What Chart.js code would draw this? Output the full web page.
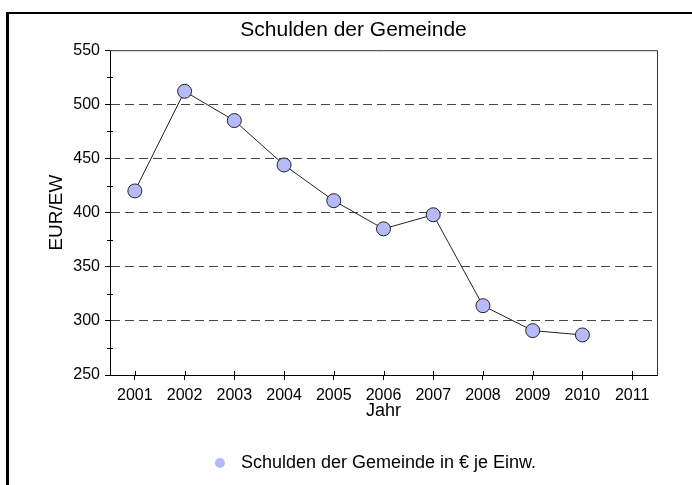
<!DOCTYPE html>
<html>
<head>
<meta charset="utf-8">
<script src="https://cdn.jsdelivr.net/npm/chart.js@4.4.1/dist/chart.umd.min.js"></script>
<style>
    body { margin: 0; overflow: hidden; background: #fff; }
    #frame {
        position: absolute; left: 6px; top: 12px; width: 800px; height: 600px;
        border-left: 3px solid #000; border-top: 2px solid #000;
    }
    #wrap { position: absolute; left: 0; top: 0; width: 692px; height: 485px; }
</style>
</head>
<body>
<div id="frame"></div>
<div id="wrap"><canvas id="schulden" width="692" height="485"></canvas></div>
<script>
var years = ["2001", "2002", "2003", "2004", "2005", "2006", "2007", "2008", "2009", "2010", "2011"]
var schulden = [420, 512, 485, 444, 411, 385, 398, 314, 291, 287, null]
var yTicks = [250, 300, 350, 400, 450, 500, 550]

var titleText = "Schulden der Gemeinde"
var seriesName = "Schulden der Gemeinde in \u20ac je Einw."

var fontName = "'Liberation Sans', Arial, sans-serif"
var pointFill = "rgb(180, 186, 250)"

// legenden-punkt als kleines bild, punkt sitzt rechts im bild
var legendDot = document.createElement("canvas")
legendDot.width = 61
legendDot.height = 12
var dctx = legendDot.getContext("2d")
dctx.fillStyle = pointFill
dctx.beginPath()
dctx.arc(49, 6, 5, 0, Math.PI * 2)
dctx.fill()

// rahmen oben/rechts + kleine ticks nach innen
var plotFrame = {
    id: "plotFrame",
    afterDraw: function(chart){
        var ctx = chart.ctx
        var a = chart.chartArea
        ctx.save()
        ctx.strokeStyle = "#333"
        ctx.lineWidth = 1
        ctx.beginPath()
        ctx.moveTo(a.left, a.top + 0.5)
        ctx.lineTo(a.right + 0.5, a.top + 0.5)
        ctx.lineTo(a.right + 0.5, a.bottom)
        ctx.stroke()

        ctx.strokeStyle = "#000"
        ctx.beginPath()
        var x = chart.scales.x
        for(var i = 0; i < x.ticks.length; i++){
            var px = Math.round(x.getPixelForTick(i)) + 0.5
            ctx.moveTo(px, a.bottom)
            ctx.lineTo(px, a.bottom - 4)
        }
        var y = chart.scales.y
        for(var j = 0; j < y.ticks.length; j++){
            if(y.ticks[j].value % 50 != 0){
                var py = Math.round(y.getPixelForValue(y.ticks[j].value)) + 0.5
                ctx.moveTo(a.left - 3, py)
                ctx.lineTo(a.left + 3, py)
            }
        }
        ctx.stroke()
        ctx.restore()
    }
}

var ctx = document.getElementById("schulden")

var chart = new Chart(ctx, {
    type: "line",
    data: {
        labels: years,
        datasets: [
            {
                label: seriesName,
                data: schulden,
                borderColor: "#222",
                borderWidth: 1,
                pointRadius: 7,
                pointHoverRadius: 7,
                pointBackgroundColor: pointFill,
                pointBorderColor: "#222",
                pointBorderWidth: 1,
                tension: 0
            }
        ]
    },
    plugins: [plotFrame],
    options: {
        responsive: false,
        animation: false,
        devicePixelRatio: 1,
        layout: {
            padding: { left: 15, right: 0, top: 0, bottom: 3 }
        },
        plugins: {
            title: {
                display: true,
                text: titleText,
                color: "#000",
                font: { family: fontName, size: 21, weight: "normal" },
                padding: { top: 18, bottom: 7 }
            },
            legend: {
                display: true,
                position: "bottom",
                labels: {
                    usePointStyle: true,
                    pointStyleWidth: 61,
                    boxHeight: 7,
                    padding: 10,
                    color: "#000",
                    font: { family: fontName, size: 18 },
                    generateLabels: function(chart){
                        return [{
                            text: seriesName,
                            fillStyle: pointFill,
                            strokeStyle: "rgba(0,0,0,0)",
                            lineWidth: 0,
                            pointStyle: legendDot,
                            datasetIndex: 0,
                            fontColor: "#000"
                        }]
                    }
                }
            },
            tooltip: { enabled: false }
        },
        scales: {
            x: {
                type: "category",
                offset: true,
                grid: {
                    display: true,
                    drawOnChartArea: false,
                    offset: false,
                    tickLength: 5,
                    tickColor: "#000"
                },
                border: { display: true, color: "#000", width: 1 },
                ticks: {
                    color: "#000",
                    padding: 6,
                    maxRotation: 0,
                    autoSkip: false,
                    font: { family: fontName, size: 16 }
                },
                title: {
                    display: true,
                    text: "Jahr",
                    color: "#000",
                    font: { family: fontName, size: 18 },
                    padding: { top: 0, bottom: 22 }
                },
                afterFit: function(scale){ scale.height = 69 }
            },
            y: {
                min: 250,
                max: 550,
                grid: {
                    drawOnChartArea: true,
                    tickLength: 5,
                    tickColor: function(c){
                        return c.tick && c.tick.value % 50 == 0 ? "#000" : "rgba(0,0,0,0)"
                    },
                    color: function(c){
                        var v = c.tick ? c.tick.value : 0
                        if(v % 50 == 0 && v > 250 && v < 550) return "#444"
                        return "rgba(0,0,0,0)"
                    },
                    tickBorderDash: []
                },
                border: { display: true, color: "#000", width: 1, dash: [9, 5] },
                ticks: {
                    stepSize: 25,
                    color: "#000",
                    padding: 5,
                    font: { family: fontName, size: 16 },
                    callback: function(v){
                        return yTicks.indexOf(v) >= 0 ? v : ""
                    }
                },
                title: {
                    display: true,
                    text: "EUR/EW",
                    color: "#000",
                    font: { family: fontName, size: 19 },
                    padding: { top: 30, bottom: 0 }
                },
                afterFit: function(scale){ scale.width = 95 }
            },
            yRight: {
                position: "right",
                display: true,
                grid: { display: false },
                border: { display: false },
                ticks: { display: false },
                afterFit: function(scale){ scale.width = 35 }
            }
        }
    }
})
</script>
</body>
</html>
